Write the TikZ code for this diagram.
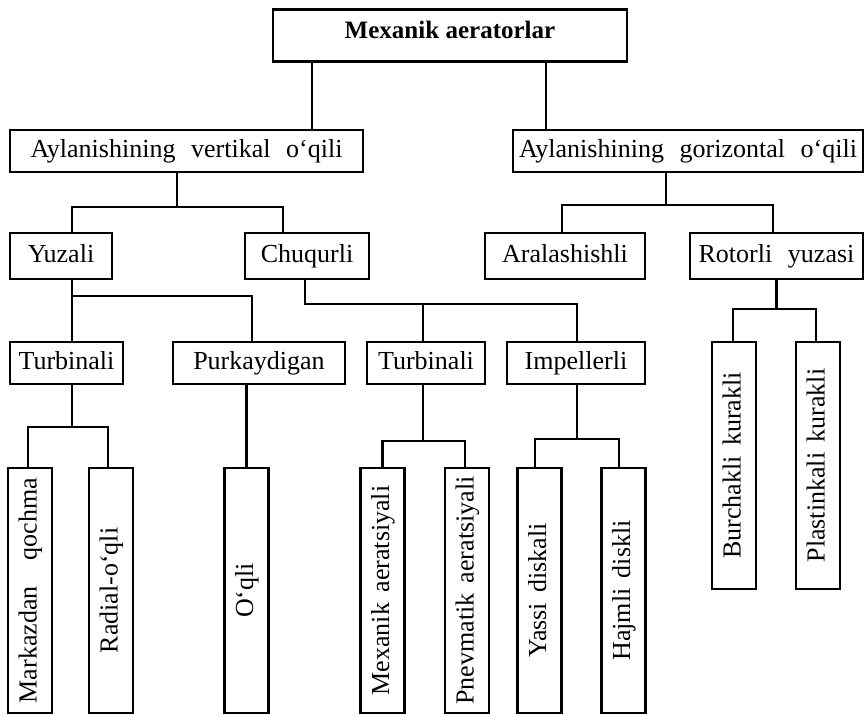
\documentclass[tikz,border=0pt]{standalone}
\usepackage{fontspec}
\setmainfont{Liberation Serif}
\usetikzlibrary{calc}
% the scheme sets its words far apart
\protected\def\widegap{\spaceskip=0.6em\relax}
\protected\def\halfgap{\spaceskip=0.4em\relax}

\begin{document}
\begin{tikzpicture}[
  % one unit is one pixel of the scanned scheme, counted down from its top left corner
  x=0.25mm, y=-0.25mm, font=\fontsize{18.5}{21}\selectfont\widegap,
  bx/.style={draw, line width=1.7pt, inner sep=0pt, minimum width=#1,
    text height=13pt, text depth=3.5pt},
  hb/.style={bx=#1, minimum height=10.5mm},
  vb/.style={bx=61.25mm, minimum height=11mm, rotate=90,
    font=\fontsize{18.5}{21}\selectfont\halfgap},
  ln/.style={line width=1.6pt},
]
\useasboundingbox (0,0) rectangle (866,715);
% levels 0 and 1
\node[bx=88.5mm, minimum height=13mm, text height=11pt, text depth=6.8pt,
  font=\fontsize{17.8}{20}\selectfont\bfseries] (top) at (450,35.5) {Mexanik aeratorlar};
\node[hb=88.25mm] (vert) at (186.5,151) {Aylanishining vertikal o‘qili};
\node[hb=87.5mm]  (gor)  at (688,151)   {Aylanishining gorizontal o‘qili};
\coordinate (s0a) at ($(top.south)+(-138,0)$);
\coordinate (s0b) at ($(top.south)+(96,0)$);
\draw[ln] (s0a) -- (s0a |- vert.north);
\draw[ln] (s0b) -- (s0b |- gor.north);
% level 2
\node[hb=25.5mm, minimum height=11.5mm]  (yuzali) at (61,256)    {Yuzali};
\node[hb=31mm, minimum height=11.5mm]    (chuq)   at (307,256)   {Chuqurli};
\node[hb=40mm, minimum height=11.5mm]    (aral)   at (565,256)   {Aralashishli};
\node[hb=43.25mm, minimum height=11.5mm] (rotor)  at (776.5,256) {Rotorli yuzasi};
\coordinate (s1) at ($(vert.south)+(-9.5,34)$);
\draw[ln] (vert.south -| s1) -- (s1);
\draw[ln] ($(yuzali.north)+(11,0)$) |- (s1) -| ($(chuq.north)+(-24,0)$);
\coordinate (s2) at ($(gor.south)+(-22,32)$);
\draw[ln] (gor.south -| s2) -- (s2);
\draw[ln] ($(aral.north)+(-3,0)$) |- (s2) -| ($(rotor.north)+(-3.5,0)$);
% level 3
\node[hb=28.25mm] (turbA) at (66.5,363) {Turbinali};
\node[hb=43mm]    (purk)  at (259,363)  {Purkaydigan};
\node[hb=29.5mm]  (turbB) at (426,363)  {Turbinali};
\node[hb=34.5mm]  (impel) at (576,363)  {Impellerli};
\coordinate (s3) at ($(yuzali.south)+(11,16)$);
\draw[ln] (yuzali.south -| s3) -- (s3);
\draw[ln] ($(turbA.north)+(5.5,0)$) |- (s3) -| ($(purk.north)+(-7,0)$);
\coordinate (s4) at ($(chuq.south)+(-2,24)$);
\draw[ln] (chuq.south -| s4) -- (s4) -| ($(impel.north)+(1,0)$);
\coordinate (d4) at ($(turbB.north)+(-3,0)$);
\draw[ln] (d4) -- (d4 |- s4);
% level 4, turned boxes: their east anchor is on top
\node[vb] (markaz) at (30,590.5)    {Markazdan\quad qochma};
\node[vb] (radial) at (111,590.5)   {Radial-o‘qli};
\node[vb] (oqli)   at (246.5,590.5) {O‘qli};
\node[vb] (mexa)   at (382.5,590.5) {Mexanik aeratsiyali};
\node[vb] (pnev)   at (467,590.5)   {Pnevmatik aeratsiyali};
\node[vb] (yassi)  at (539.5,590.5) {Yassi diskali};
\node[vb] (hajm)   at (623.5,590.5) {Hajmli diskli};
\node[vb, minimum width=61.75mm] (burch) at (734,465.5) {Burchakli kurakli};
\node[vb, minimum width=61.75mm] (plast) at (818,465.5) {Plastinkali kurakli};
\coordinate (s5) at ($(turbA.south)+(5.5,42)$);
\draw[ln] (turbA.south -| s5) -- (s5);
\draw[ln] ($(markaz.east)+(-2,0)$) |- (s5) -| ($(radial.east)+(-3,0)$);
\draw[ln] (oqli.east) -- (oqli.east |- purk.south);
\coordinate (s6) at ($(turbB.south)+(-3,56)$);
\draw[ln] (turbB.south -| s6) -- (s6);
\draw[ln] (mexa.east) |- (s6) -| ($(pnev.east)+(-2,0)$);
\coordinate (s7) at ($(impel.south)+(1,54)$);
\draw[ln] (impel.south -| s7) -- (s7);
\draw[ln] ($(yassi.east)+(-4.5,0)$) |- (s7) -| ($(hajm.east)+(-4.5,0)$);
\coordinate (s8) at ($(rotor.south)+(0,29)$);
\draw[ln] (rotor.south) -- (s8);
\draw[ln] ($(burch.east)+(-1,0)$) |- (s8) -| ($(plast.east)+(-2,0)$);
\end{tikzpicture}
\end{document}
